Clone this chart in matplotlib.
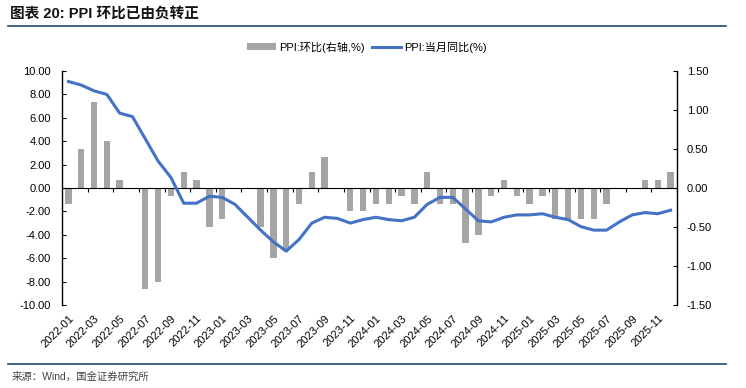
import matplotlib
matplotlib.use("Agg")
import matplotlib.pyplot as plt
from matplotlib.lines import Line2D
import numpy as np

plt.rcParams['font.family'] = ['Liberation Sans', 'Noto Sans CJK SC', 'DejaVu Sans']

# months 2022-01 .. 2025-12
months = [f"{y}-{m:02d}" for y in range(2022, 2026) for m in range(1, 13)]

# PPI 当月同比 (%), left axis
ppi_yoy = [9.1, 8.8, 8.3, 8.0, 6.4, 6.1, 4.2, 2.3, 0.9, -1.3, -1.3, -0.7,
           -0.8, -1.4, -2.5, -3.6, -4.6, -5.4, -4.4, -3.0, -2.5, -2.6, -3.0, -2.7,
           -2.5, -2.7, -2.8, -2.5, -1.4, -0.8, -0.8, -1.8, -2.8, -2.9, -2.5, -2.3,
           -2.3, -2.2, -2.5, -2.7, -3.3, -3.6, -3.6, -2.9, -2.3, -2.1, -2.2, -1.9]

# PPI 环比 (%), right axis
ppi_mom = [-0.2, 0.5, 1.1, 0.6, 0.1, 0.0, -1.3, -1.2, -0.1, 0.2, 0.1, -0.5,
           -0.4, 0.0, 0.0, -0.5, -0.9, -0.8, -0.2, 0.2, 0.4, 0.0, -0.3, -0.3,
           -0.2, -0.2, -0.1, -0.2, 0.2, -0.2, -0.2, -0.7, -0.6, -0.1, 0.1, -0.1,
           -0.2, -0.1, -0.4, -0.4, -0.4, -0.4, -0.2, 0.0, 0.0, 0.1, 0.1, 0.2]

left_ticks = np.arange(-10, 10.1, 2)
right_ticks = np.arange(-1.5, 1.51, 0.5)

x = np.arange(len(months))

fig = plt.figure(figsize=(7.46, 3.88), dpi=100)
ax = fig.add_axes([62/746, 1-305/388, (677-62)/746, (305-71)/388])
ax2 = ax.twinx()

ax2.bar(x, ppi_mom, width=0.5, color='#a5a5a5', label='PPI:环比(右轴,%)')
ax.plot(x, ppi_yoy, color='#4472c4', lw=2.2, label='PPI:当月同比(%)')

ax.set_zorder(ax2.get_zorder() + 1)
ax.patch.set_visible(False)

ax.set_xlim(-0.5, len(months) - 0.5)
ax.set_ylim(-10, 10)
ax2.set_ylim(-1.5, 1.5)
ax.set_yticks(left_ticks)
ax.set_yticklabels([f"{v:.2f}" for v in left_ticks])
ax2.set_yticks(right_ticks)
ax2.set_yticklabels([f"{v:.2f}" for v in right_ticks])

for a in (ax, ax2):
    for s in ('top', 'bottom'):
        a.spines[s].set_visible(False)
ax.spines['right'].set_visible(False)
ax2.spines['left'].set_visible(False)
ax.spines['left'].set_linewidth(1.0)
ax2.spines['right'].set_linewidth(1.0)

ax.tick_params(axis='y', direction='in', length=3, labelsize=8, pad=8)
ax2.tick_params(axis='y', direction='in', length=3, labelsize=8, pad=7)

ax.set_xticks(x[::2])
ax.set_xticklabels(months[::2], rotation=45, ha='right', rotation_mode='anchor', fontsize=8)
ax.tick_params(axis='x', length=0, pad=6)

# category axis drawn through zero
zero_axis = ax.secondary_xaxis(0.5)
zero_axis.set_xticks(np.arange(1.5, len(months), 2))
zero_axis.tick_params(axis='x', direction='in', length=3, labelbottom=False, labeltop=False)
zero_axis.spines['bottom'].set_linewidth(1.0)

h1, l1 = ax2.get_legend_handles_labels()
h2, l2 = ax.get_legend_handles_labels()
fig.legend(h1 + h2, l1 + l2, loc='center', bbox_to_anchor=(0.492, 1 - 47/388), ncol=2,
           frameon=False, fontsize=8, handlelength=2.6, handleheight=0.6,
           columnspacing=0.6, handletextpad=0.3)

fig.text(10/746, 1 - 14/388, '图表 20: PPI 环比已由负转正', fontsize=10.5, fontweight='bold',
         ha='left', va='center', color='#111111')
fig.add_artist(Line2D([8/746, 726/746], [1 - 26/388, 1 - 26/388], color='#1d4e63', lw=1.2))
fig.add_artist(Line2D([8/746, 726/746], [1 - 364/388, 1 - 364/388], color='#1d4e63', lw=1.2))
fig.text(12/746, 1 - 377/388, '来源：Wind，国金证券研究所', fontsize=7.5, ha='left', va='center',
         color='#444444')

fig.savefig('out.png', dpi=100)
